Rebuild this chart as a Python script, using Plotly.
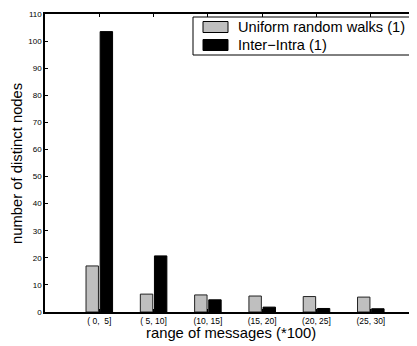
import plotly.graph_objects as go

categories = ["( 0,  5]", "( 5, 10]", "(10, 15]", "(15, 20]", "(20, 25]", "(25, 30]"]
uniform_values = [17, 6.6, 6.3, 5.9, 5.7, 5.5]
interintra_values = [103.5, 20.7, 4.5, 1.8, 1.3, 1.2]
series_names = ["Uniform random walks (1)", "Inter\u2212Intra (1)"]
positions = list(range(1, len(categories) + 1))

FONT = "Liberation Sans, Arial, Helvetica, sans-serif"
OFF = 8  # default page body margin
W, H = 417 - OFF, 346 - OFF
L, T, B = 45 - OFF, 14 - OFF, 312 - OFF
PW, PH = W - L, B - T

def px(x):
    return (x - OFF - L) / PW

def py(y):
    return (B - (y - OFF)) / PH

fig = go.Figure()
fig.add_trace(go.Bar(x=positions, y=uniform_values, name=series_names[0],
                     marker=dict(color="#bfbfbf", line=dict(color="#222222", width=1)),
                     showlegend=False))
fig.add_trace(go.Bar(x=positions, y=interintra_values, name=series_names[1],
                     marker=dict(color="#000000", line=dict(color="#000000", width=1)),
                     showlegend=False))

# manual legend (box + swatches + labels)
fig.add_shape(type="rect", xref="paper", yref="paper", x0=px(193), x1=px(440),
              y0=py(55), y1=py(17), line=dict(color="black", width=1),
              fillcolor="white", layer="above")
for i, (name, col) in enumerate(zip(series_names, ["#bfbfbf", "#000000"])):
    yc = 27 + i * 18
    fig.add_shape(type="rect", xref="paper", yref="paper",
                  x0=px(203), x1=px(228), y0=py(yc + 5.5), y1=py(yc - 5.5),
                  line=dict(color="black", width=1), fillcolor=col, layer="above")
    fig.add_annotation(xref="paper", yref="paper", x=px(236), y=py(yc),
                       text=name, showarrow=False, xanchor="left", yanchor="middle",
                       font=dict(family=FONT, size=14.6, color="black"))

# axis titles
fig.add_annotation(xref="paper", yref="paper", x=px(231), y=py(333),
                   text="range of messages (*100)", showarrow=False,
                   xanchor="center", yanchor="middle",
                   font=dict(family=FONT, size=14.8, color="black"))
fig.add_annotation(xref="paper", yref="paper", x=px(17), y=py(164),
                   text="number of distinct nodes", showarrow=False, textangle=-90,
                   xanchor="center", yanchor="middle",
                   font=dict(family=FONT, size=14.8, color="black"))

fig.update_layout(
    width=W, height=H,
    margin=dict(l=L, r=0, t=T, b=H - B),
    paper_bgcolor="white", plot_bgcolor="white",
    barmode="group", bargap=0.48, bargroupgap=0.12,
    font=dict(family=FONT, color="black"),
    xaxis=dict(range=[0, PW / 54.3], tickmode="array", tickvals=positions, ticktext=categories,
               showline=True, linecolor="black", linewidth=1.5, mirror="ticks",
               ticks="inside", ticklen=3, tickcolor="black", showgrid=False, zeroline=False,
               tickfont=dict(size=8.5), automargin=False),
    yaxis=dict(range=[0, 110], dtick=10, showline=True, linecolor="black", linewidth=1.5,
               ticks="inside", ticklen=3, tickcolor="black", showgrid=False, zeroline=False,
               tickfont=dict(size=8), automargin=False),
)

fig.write_html("out.html")
